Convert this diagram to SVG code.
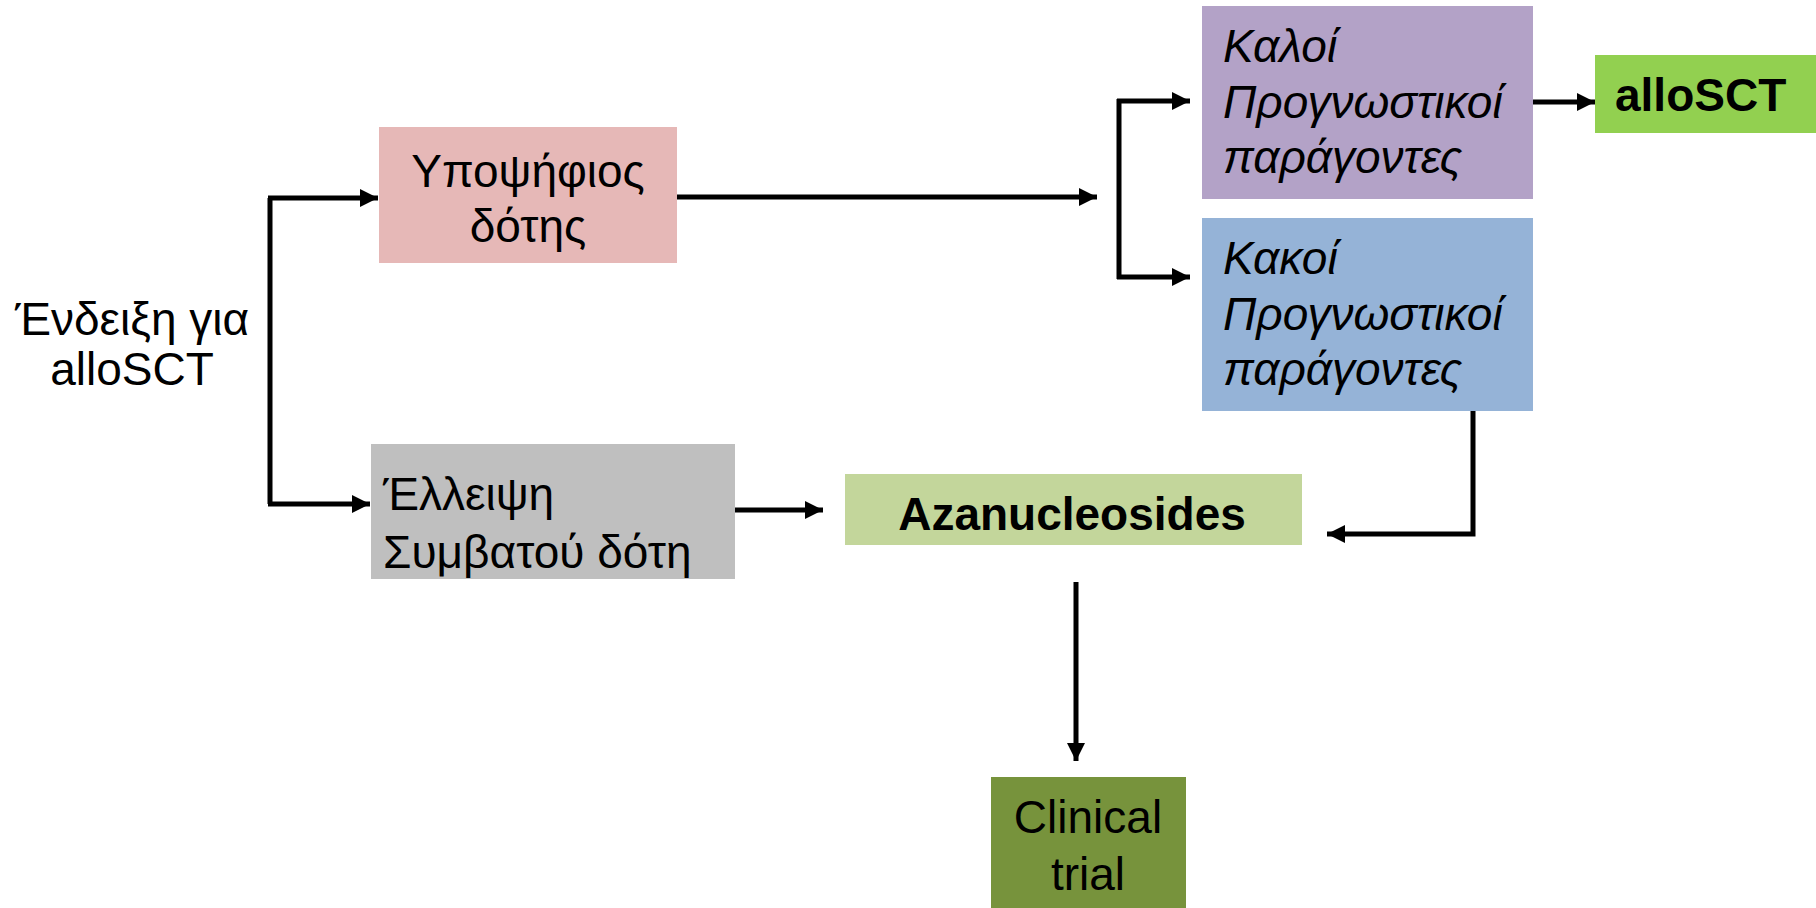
<svg xmlns="http://www.w3.org/2000/svg" width="1816" height="908" viewBox="0 0 1816 908">
<defs>
<style>
text{font-family:"Liberation Sans",Arial,sans-serif;font-size:46px;fill:#000}
.it{font-style:italic}
.b{font-weight:bold}
.c{text-anchor:middle}
.ln{fill:none;stroke:#000;stroke-width:5}
</style>
<marker id="ah" markerUnits="userSpaceOnUse" markerWidth="20" markerHeight="18" refX="18" refY="9" orient="auto">
<path d="M0,0 L18,9 L0,18 Z" fill="#000"/>
</marker>
</defs>
<rect width="1816" height="908" fill="#fff"/>
<g id="connectors">
<path class="ln" d="M270,198 V504" />
<path class="ln" d="M268,198 H378" marker-end="url(#ah)"/>
<path class="ln" d="M268,504 H370" marker-end="url(#ah)"/>
<path class="ln" d="M677,197 H1097" marker-end="url(#ah)"/>
<path class="ln" d="M1119,99 V279" />
<path class="ln" d="M1117,101 H1190" marker-end="url(#ah)"/>
<path class="ln" d="M1117,277 H1190" marker-end="url(#ah)"/>
<path class="ln" d="M1533,102 H1595" marker-end="url(#ah)"/>
<path class="ln" d="M735,510 H823" marker-end="url(#ah)"/>
<path class="ln" d="M1473,411 V534 H1327" marker-end="url(#ah)"/>
<path class="ln" d="M1076,582 V761" stroke-width="4" marker-end="url(#ah)"/>
</g>
<g id="indication">
<text class="c" x="132" y="335">Ένδειξη για</text>
<text class="c" x="132" y="385">alloSCT</text>
</g>
<g id="candidate">
<rect x="379" y="127" width="298" height="136" fill="#E6B8B7"/>
<text class="c" x="528" y="187">Υποψήφιος</text>
<text class="c" x="528" y="242">δότης</text>
</g>
<g id="nodonor">
<rect x="371" y="444" width="364" height="135" fill="#BFBFBF"/>
<text x="383" y="510">Έλλειψη</text>
<text x="383" y="568">Συμβατού δότη</text>
</g>
<g id="good">
<rect x="1202" y="6" width="331" height="193" fill="#B3A2C7"/>
<text class="it" x="1223" y="62">Καλοί</text>
<text class="it" x="1223" y="118">Προγνωστικοί</text>
<text class="it" x="1223" y="173">παράγοντες</text>
</g>
<g id="bad">
<rect x="1202" y="218" width="331" height="193" fill="#95B3D7"/>
<text class="it" x="1223" y="274">Κακοί</text>
<text class="it" x="1223" y="330">Προγνωστικοί</text>
<text class="it" x="1223" y="385">παράγοντες</text>
</g>
<g id="allosct">
<rect x="1595" y="55" width="221" height="78" fill="#92D050"/>
<text class="b" x="1615" y="111">alloSCT</text>
</g>
<g id="aza">
<rect x="845" y="474" width="457" height="71" fill="#C3D69B"/>
<text class="b c" x="1072" y="530">Azanucleosides</text>
</g>
<g id="clinical">
<rect x="991" y="777" width="195" height="131" fill="#77933C"/>
<text class="c" x="1088" y="833">Clinical</text>
<text class="c" x="1088" y="890">trial</text>
</g>
</svg>
